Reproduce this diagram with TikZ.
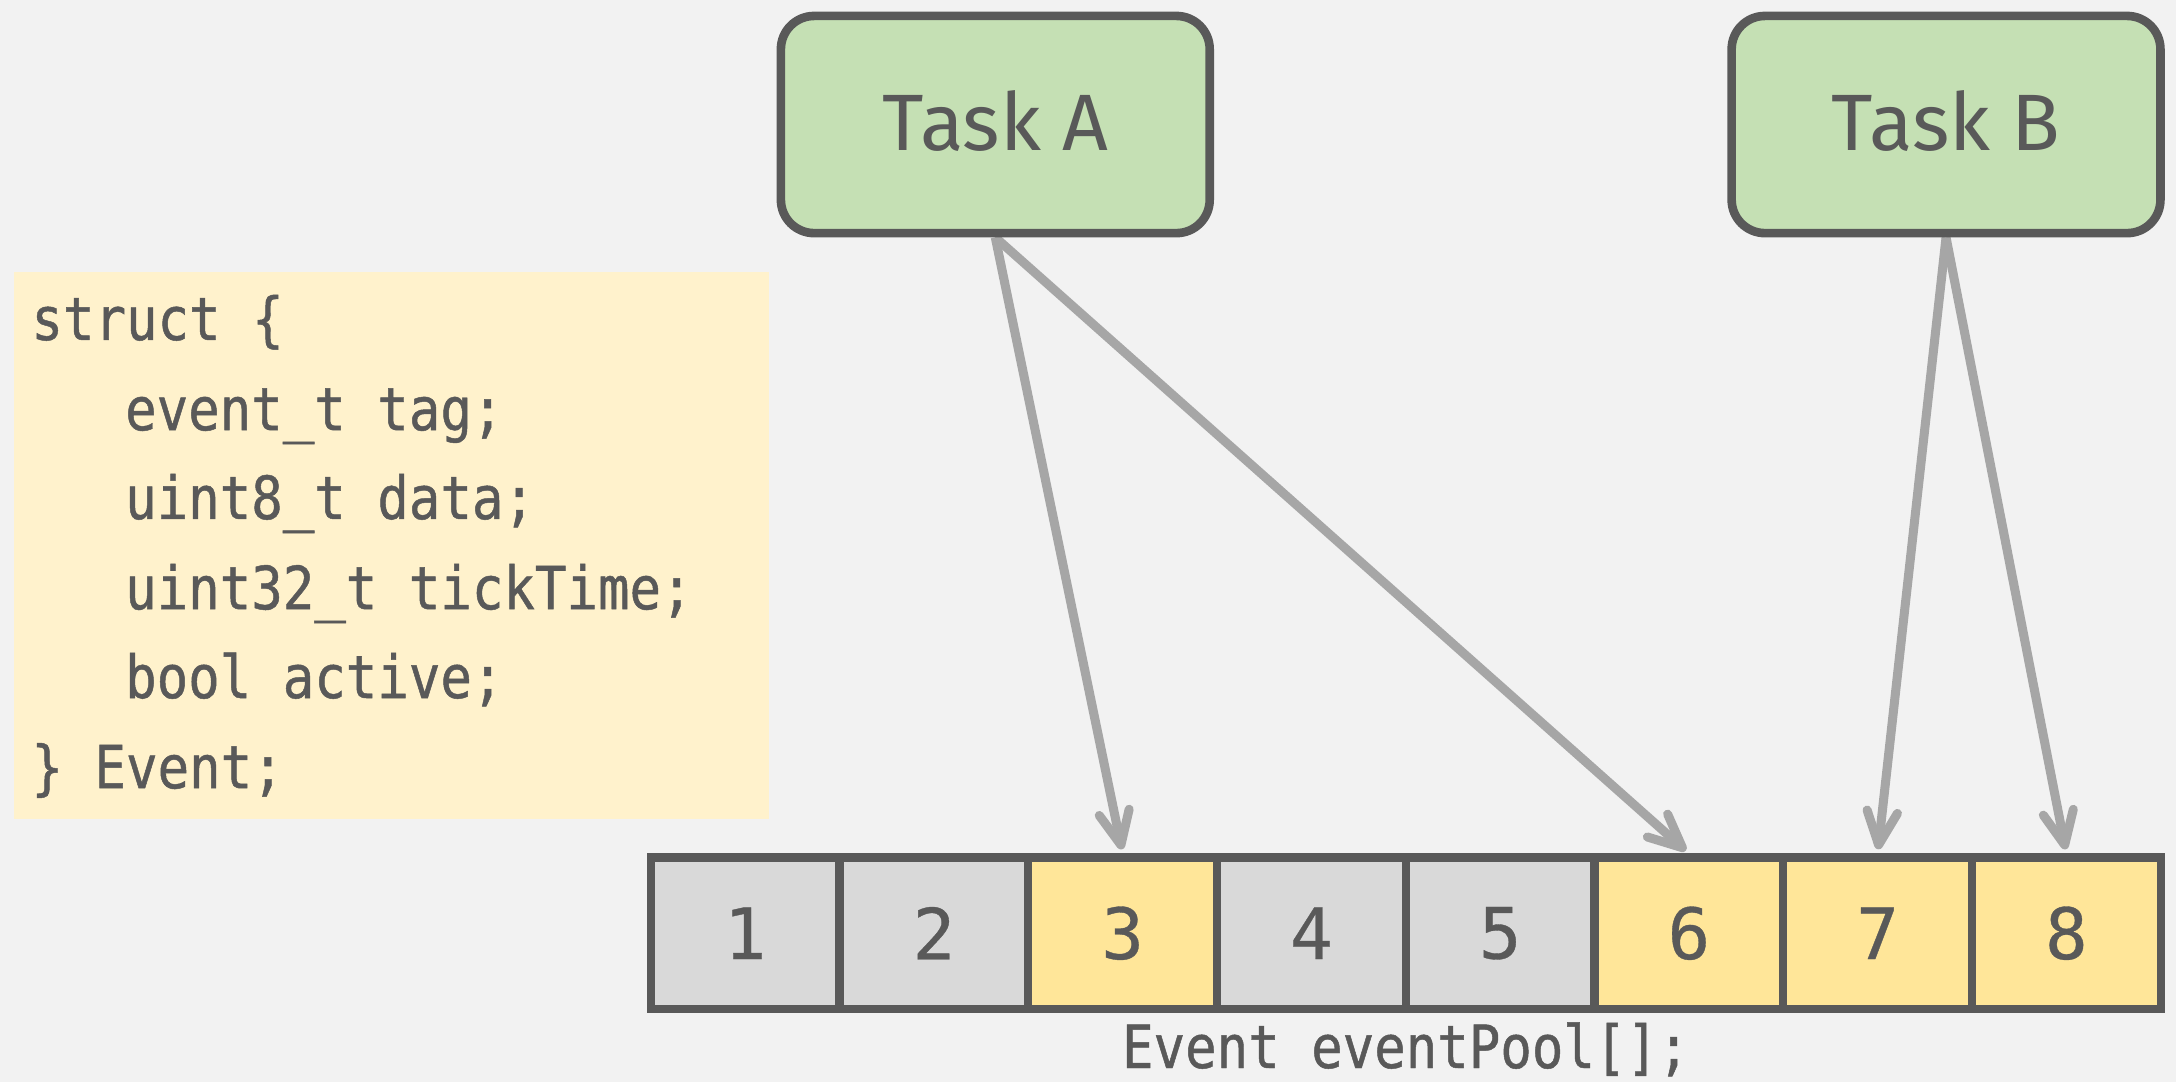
\documentclass[tikz,border=0pt]{standalone}
\usepackage{fontspec}
\usetikzlibrary{arrows.meta}
\newfontfamily\taskfont{Fira Sans}
\newfontfamily\codefont[FakeStretch=0.88,FakeBold=0.8]{DejaVu Sans Mono}
\newfontfamily\numfont[FakeBold=0.5]{DejaVu Sans Mono}
\definecolor{bgc}{HTML}{F2F2F2}
\definecolor{codebg}{HTML}{FFF2CC}
\definecolor{taskgreen}{HTML}{C5E0B4}
\definecolor{cellyellow}{HTML}{FFE699}
\definecolor{cellgray}{HTML}{D9D9D9}
\definecolor{dark}{HTML}{595959}
\definecolor{arrowgray}{HTML}{A6A6A6}
\pgfdeclarelayer{bg}
\pgfdeclarelayer{arrlayer}
\pgfsetlayers{bg,arrlayer,main}
\begin{document}
\begin{tikzpicture}[x=0.1mm,y=-0.1mm,
  task/.style={draw=dark, line width=0.62mm, fill=taskgreen, rounded corners=2.4mm,
    minimum width=30.9mm, minimum height=15.65mm, inner sep=0pt, text=dark,
    text depth=0.6mm,
    font=\taskfont\fontsize{16.4pt}{18pt}\selectfont},
  cell/.style={draw=dark, line width=0.6mm, minimum width=13.6mm, minimum height=10.9mm,
    inner sep=0pt, text=dark, font=\numfont\fontsize{14.5pt}{16pt}\selectfont},
  codebox/.style={fill=codebg, minimum width=54.42mm, minimum height=39.42mm, inner sep=0pt},
  codeline/.style={anchor=base west, inner sep=0pt, text=dark,
    font=\codefont\fontsize{12.2pt}{14pt}\selectfont},
  poollbl/.style={anchor=base, inner sep=0pt, text=dark,
    font=\codefont\fontsize{12.2pt}{14pt}\selectfont},
  arr/.style={draw=arrowgray, line width=0.65mm,
    -{Straight Barb[round, length=2.4mm, width=2.2mm]}, shorten >=0.3mm}
]
\begin{pgfonlayer}{bg}
\fill[bgc] (0,0) rectangle (1568,780);
\end{pgfonlayer}
\useasboundingbox (0,0) rectangle (1568,780);

% code box
\node[codebox] (code) at (281.9,392.9) {};
\node[codeline] (l1) at (22,245) {struct \{};
\node[codeline] (l2) at (89.5,310) {event\_t tag;};
\node[codeline] (l3) at (89.5,374) {uint8\_t data;};
\node[codeline] (l4) at (89.5,439) {uint32\_t tickTime;};
\node[codeline] (l5) at (89.5,503) {bool active;};
\node[codeline] (l6) at (22,568) {\} Event;};

% tasks
\node[task] (ta) at (717.2,89.75) {Task A};
\node[task] (tb) at (1402.3,89.75) {Task B};

% cells
\foreach \n/\c [count=\k from 0] in {1/cellgray,2/cellgray,3/cellyellow,4/cellgray,5/cellgray,6/cellyellow,7/cellyellow,8/cellyellow}
  \node[cell, fill=\c] (c\n) at ({537+136*\k},672.5) {\n};

\node[poollbl] (pool) at (1013,769.6) {Event eventPool[];};

% arrows
\begin{pgfonlayer}{arrlayer}
\draw[arr] (ta.south) -- (c3.north);
\draw[arr] (ta.south) -- (c6.north);
\draw[arr] (tb.south) -- (c7.north);
\draw[arr] (tb.south) -- (c8.north);
\end{pgfonlayer}
\end{tikzpicture}
\end{document}
